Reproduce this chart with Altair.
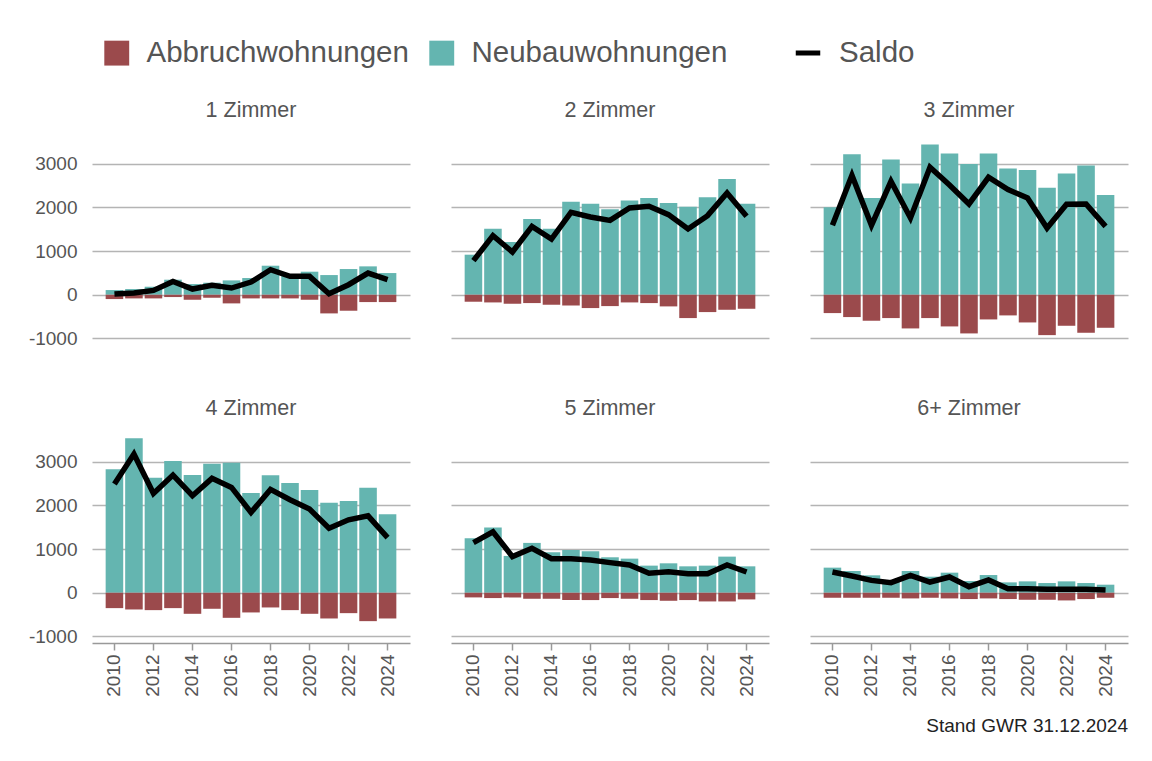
import altair as alt
import pandas as pd

years = list(range(2010, 2025))
panels = ["1 Zimmer", "2 Zimmer", "3 Zimmer", "4 Zimmer", "5 Zimmer", "6+ Zimmer"]

neu_1 = [107, 130, 183, 344, 244, 275, 328, 382, 664, 458, 527, 450, 588, 649, 496]
abb_1 = [-99, -84, -84, -53, -115, -69, -198, -84, -84, -84, -115, -427, -366, -168, -168]
sal_1 = [15, 38, 99, 305, 130, 214, 153, 290, 573, 420, 420, 23, 229, 496, 344]

neu_2 = [916, 1511, 1206, 1733, 1511, 2130, 2084, 1954, 2153, 2214, 2099, 2015, 2229, 2649, 2084]
abb_2 = [-160, -176, -206, -191, -229, -244, -305, -260, -176, -191, -267, -534, -397, -344, -321]
sal_2 = [779, 1351, 977, 1565, 1275, 1885, 1779, 1702, 1985, 2023, 1832, 1504, 1809, 2328, 1794]

neu_3 = [2000, 3214, 2214, 3092, 2542, 3435, 3229, 2992, 3229, 2885, 2855, 2450, 2771, 2954, 2282]
abb_3 = [-420, -511, -595, -534, -771, -534, -725, -885, -565, -473, -634, -924, -710, -870, -756]
sal_3 = [1588, 2733, 1588, 2595, 1756, 2916, 2511, 2076, 2687, 2405, 2214, 1527, 2069, 2076, 1565]

neu_4 = [2823, 3535, 2632, 3015, 2693, 2953, 2976, 2280, 2686, 2510, 2349, 2058, 2096, 2402, 1798]
abb_4 = [-352, -383, -398, -352, -482, -367, -574, -451, -337, -398, -482, -589, -467, -650, -589]
sal_4 = [2487, 3175, 2272, 2693, 2219, 2617, 2410, 1836, 2364, 2127, 1913, 1477, 1668, 1760, 1262]

neu_5 = [1247, 1492, 842, 1140, 926, 979, 949, 811, 780, 620, 673, 604, 620, 826, 604]
abb_5 = [-107, -122, -107, -138, -138, -168, -168, -122, -138, -168, -184, -168, -199, -199, -153]
sal_5 = [1148, 1393, 826, 1018, 780, 780, 750, 689, 635, 444, 482, 436, 436, 635, 474]

neu_6 = [574, 497, 398, 268, 497, 367, 459, 268, 405, 237, 260, 222, 260, 222, 184]
abb_6 = [-115, -115, -115, -115, -130, -115, -130, -145, -130, -145, -161, -161, -176, -145, -115]
sal_6 = [474, 383, 283, 230, 398, 245, 360, 138, 291, 92, 92, 77, 77, 77, 61]

neu_all = [neu_1, neu_2, neu_3, neu_4, neu_5, neu_6]
abb_all = [abb_1, abb_2, abb_3, abb_4, abb_5, abb_6]
sal_all = [sal_1, sal_2, sal_3, sal_4, sal_5, sal_6]

rows = []
for p, neu, abb, sal in zip(panels, neu_all, abb_all, sal_all):
    for y, n, a, s in zip(years, neu, abb, sal):
        rows.append({"Zimmer": p, "Jahr": y, "Typ": "Neubauwohnungen", "Wert": n, "Saldo": s, "Serie": "Saldo"})
        rows.append({"Zimmer": p, "Jahr": y, "Typ": "Abbruchwohnungen", "Wert": a, "Saldo": s, "Serie": "Saldo"})
df = pd.DataFrame(rows)

FONT = "Liberation Sans"
GREY = "#555555"

x_enc = alt.X(
    "Jahr:O",
    title=None,
    scale=alt.Scale(paddingInner=0.1, paddingOuter=0.7),
    axis=alt.Axis(values=list(range(2010, 2025, 2)), labelAngle=270),
)
y_scale = alt.Scale(domain=[-1150, 3700], nice=False)

bars = alt.Chart().mark_bar().encode(
    x=x_enc,
    y=alt.Y("Wert:Q", title=None, scale=y_scale, stack=None,
            axis=alt.Axis(values=[-1000, 0, 1000, 2000, 3000], labelExpr="'' + datum.value")),
    color=alt.Color(
        "Typ:N",
        scale=alt.Scale(domain=["Abbruchwohnungen", "Neubauwohnungen"], range=["#9b4a4c", "#64b5b0"]),
        legend=alt.Legend(title=None, orient="none", direction="horizontal",
                          legendX=10, legendY=-95, symbolType="square", symbolSize=620,
                          labelFontSize=29.5, labelColor=GREY, labelFont=FONT, labelLimit=0,
                          labelOffset=15, columnPadding=18, symbolStrokeWidth=0),
    ),
)

line = alt.Chart().transform_filter(alt.datum.Typ == "Neubauwohnungen").mark_line(
    strokeWidth=5.5, strokeJoin="miter"
).encode(
    x=x_enc,
    y=alt.Y("Saldo:Q", scale=y_scale),
    stroke=alt.Stroke(
        "Serie:N",
        scale=alt.Scale(domain=["Saldo"], range=["#000000"]),
        legend=alt.Legend(title=None, orient="none", direction="horizontal",
                          legendX=701, legendY=-95, symbolType="stroke", symbolSize=600,
                          symbolStrokeWidth=5, labelFontSize=29.5, labelColor=GREY,
                          labelFont=FONT, labelOffset=16, labelLimit=0),
    ),
)

chart = alt.layer(bars, line, data=df).properties(width=318, height=212).facet(
    facet=alt.Facet("Zimmer:N", title=None, sort=panels,
                    header=alt.Header(labelFontSize=21.5, labelColor=GREY, labelFont=FONT, labelPadding=12)),
    columns=3,
    spacing={"row": 52, "column": 41},
).properties(
    title=alt.TitleParams("Stand GWR 31.12.2024", orient="bottom", anchor="end",
                          fontSize=19, fontWeight="normal", color="#222222", font=FONT, offset=21),
    padding={"left": 20, "top": 30, "right": 5, "bottom": 5},
).configure(font=FONT).configure_view(stroke=None).configure_axisY(
    domain=False, ticks=False, labelPadding=15, labelFontSize=19, labelColor=GREY, labelFont=FONT,
    gridColor="#b4b4b4", gridWidth=1.5,
).configure_axisX(
    grid=False, domainColor="#999999", domainWidth=1.5, tickColor="#999999", tickSize=7,
    tickWidth=1.5, labelFontSize=19, labelColor=GREY, labelFont=FONT, labelPadding=4,
)

chart.save("out.html", embed_options={"renderer": "svg", "actions": False})
